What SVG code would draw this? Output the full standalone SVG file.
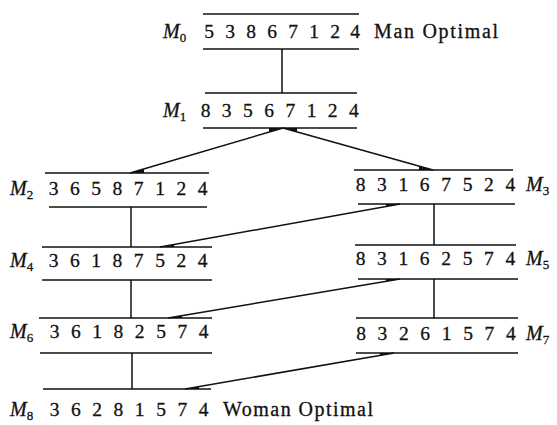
<svg xmlns="http://www.w3.org/2000/svg" width="557" height="425" viewBox="0 0 557 425">
<style>
.rule{stroke:#111;stroke-width:1.6;fill:none}
.con{stroke:#111;stroke-width:1.5;fill:none}
.wedge{fill:#111;stroke:none}
.dig{font-family:"Liberation Serif","Times New Roman",serif;font-size:19.5px;fill:#111;stroke:#111;stroke-width:0.3;text-anchor:middle}
.lbl{font-family:"Liberation Serif","Times New Roman",serif;font-size:20px;font-style:italic;fill:#111;stroke:#111;stroke-width:0.3}
.sub{font-size:13px;font-style:normal}
.note{font-family:"Liberation Serif","Times New Roman",serif;font-size:20px;fill:#111;stroke:#111;stroke-width:0.3}
</style>
<rect width="557" height="425" fill="#fff"/>

<g id="connectors">
  <line class="con" x1="282" y1="49" x2="282" y2="93"/>
  <line class="con" x1="283" y1="128" x2="130" y2="173"/>
  <line class="con" x1="283" y1="128" x2="433" y2="170"/>
  <line class="con" x1="131" y1="207" x2="131" y2="247"/>
  <line class="con" x1="434" y1="204" x2="434" y2="245"/>
  <line class="con" x1="400" y1="204" x2="160" y2="247"/>
  <line class="con" x1="131" y1="280" x2="131" y2="318"/>
  <line class="con" x1="434" y1="279" x2="434" y2="318"/>
  <line class="con" x1="400" y1="279" x2="168" y2="318"/>
  <line class="con" x1="132" y1="353" x2="132" y2="389"/>
  <line class="con" x1="394" y1="353" x2="185" y2="389"/>
  <polygon class="wedge" points="283,128 269,128 269,132.1"/>
  <polygon class="wedge" points="130,173 144,173 144,168.9"/>
  <polygon class="wedge" points="283,128 297,128 297,131.9"/>
  <polygon class="wedge" points="433,170 419,170 419,166.1"/>
  <polygon class="wedge" points="400,204 386,204 386,206.5"/>
  <polygon class="wedge" points="160,247 174,247 174,244.5"/>
  <polygon class="wedge" points="400,279 386,279 386,281.35"/>
  <polygon class="wedge" points="168,318 182,318 182,315.65"/>
  <polygon class="wedge" points="394,353 380,353 380,355.4"/>
  <polygon class="wedge" points="185,389 199,389 199,386.6"/>
</g>

<g id="M0">
  <line class="rule" x1="203" y1="14" x2="359" y2="14"/>
  <line class="rule" x1="203" y1="49" x2="359" y2="49"/>
  <text class="lbl" x="163" y="38">M<tspan class="sub" dy="4">0</tspan></text>
  <text class="dig" x="209 230 251 272 293 314 335 355" y="38">53867124</text>
  <text class="note" x="374" y="38" textLength="124" lengthAdjust="spacing">Man Optimal</text>
</g>

<g id="M1">
  <line class="rule" x1="205" y1="93" x2="357" y2="93"/>
  <line class="rule" x1="203" y1="128" x2="357" y2="128"/>
  <text class="lbl" x="163" y="117">M<tspan class="sub" dy="4">1</tspan></text>
  <text class="dig" x="205.5 226.7 247.9 269.1 290.3 311.5 332.7 353.9" y="117">83567124</text>
</g>

<g id="M2">
  <line class="rule" x1="45" y1="173" x2="209" y2="173"/>
  <line class="rule" x1="49" y1="207" x2="207" y2="207"/>
  <text class="lbl" x="10" y="195">M<tspan class="sub" dy="4">2</tspan></text>
  <text class="dig" x="53.5 74.8 96.1 117.4 138.7 160 181.3 202.6" y="195">36587124</text>
</g>

<g id="M3">
  <line class="rule" x1="354" y1="170" x2="513" y2="170"/>
  <line class="rule" x1="358" y1="204" x2="515" y2="204"/>
  <text class="dig" x="360.5 381.9 403.3 424.7 446.1 467.5 488.9 510.3" y="191">83167524</text>
  <text class="lbl" x="526" y="191">M<tspan class="sub" dy="4">3</tspan></text>
</g>

<g id="M4">
  <line class="rule" x1="42" y1="247" x2="212" y2="247"/>
  <line class="rule" x1="42" y1="280" x2="212" y2="280"/>
  <text class="lbl" x="10" y="267">M<tspan class="sub" dy="4">4</tspan></text>
  <text class="dig" x="53.5 74.8 96.1 117.4 138.7 160 181.3 202.6" y="267">36187524</text>
</g>

<g id="M5">
  <line class="rule" x1="355" y1="245" x2="516" y2="245"/>
  <line class="rule" x1="358" y1="279" x2="518" y2="279"/>
  <text class="dig" x="360.5 381.9 403.3 424.7 446.1 467.5 488.9 510.3" y="265">83162574</text>
  <text class="lbl" x="526" y="265">M<tspan class="sub" dy="4">5</tspan></text>
</g>

<g id="M6">
  <line class="rule" x1="39" y1="318" x2="212" y2="318"/>
  <line class="rule" x1="40" y1="353" x2="212" y2="353"/>
  <text class="lbl" x="10" y="338">M<tspan class="sub" dy="4">6</tspan></text>
  <text class="dig" x="54.5 75.8 97.1 118.4 139.7 161 182.3 203.6" y="338">36182574</text>
</g>

<g id="M7">
  <line class="rule" x1="356" y1="318" x2="518" y2="318"/>
  <line class="rule" x1="356" y1="353" x2="518" y2="353"/>
  <text class="dig" x="361 382.4 403.8 425.2 446.6 468 489.4 510.8" y="340">83261574</text>
  <text class="lbl" x="526" y="340">M<tspan class="sub" dy="4">7</tspan></text>
</g>

<g id="M8">
  <line class="rule" x1="43" y1="389" x2="211" y2="389"/>
  <text class="lbl" x="10" y="416">M<tspan class="sub" dy="4">8</tspan></text>
  <text class="dig" x="54.5 75.8 97.1 118.4 139.7 161 182.3 203.6" y="416">36281574</text>
  <text class="note" x="223" y="416" textLength="150" lengthAdjust="spacing">Woman Optimal</text>
</g>
</svg>
